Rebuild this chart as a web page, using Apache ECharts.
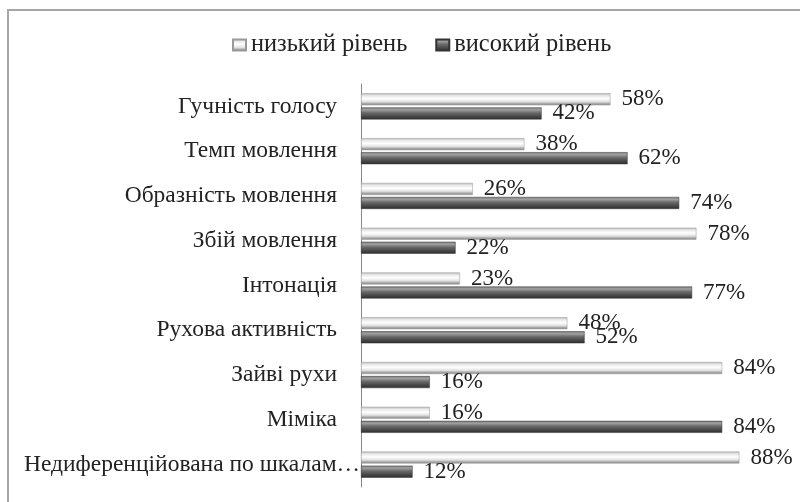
<!DOCTYPE html>
<html><head><meta charset="utf-8">
<script src="https://cdn.jsdelivr.net/npm/echarts@6/dist/echarts.min.js"></script>
<style>html,body{margin:0;padding:0;background:#fff}#c{width:800px;height:502px}</style>
</head><body><div id="c"></div>
<script>
const categories = ['Гучність голосу','Темп мовлення','Образність мовлення','Збій мовлення','Інтонація','Рухова активність','Зайві рухи','Міміка','Недиференційована по шкалам…'];
const lowValues = [58,38,26,78,23,48,84,16,88];
const highValues = [42,62,74,22,77,52,16,84,12];
const seriesNames = ['низький рівень','високий рівень'];

const chart = echarts.init(document.getElementById('c'));
const font = 'Liberation Serif';
const lowGrad = new echarts.graphic.LinearGradient(0,0,0,1,[
  {offset:0,color:'#bcbcbc'},{offset:0.2,color:'#e8e8e8'},{offset:0.45,color:'#ffffff'},{offset:0.7,color:'#e0e0e0'},{offset:0.85,color:'#a8a8a8'},{offset:1,color:'#8a8a8a'}]);
const highGrad = new echarts.graphic.LinearGradient(0,0,0,1,[
  {offset:0,color:'#7a7a7a'},{offset:0.2,color:'#a0a0a0'},{offset:0.45,color:'#6a6a6a'},{offset:0.75,color:'#474747'},{offset:1,color:'#2e2e2e'}]);
const labelCfg = {show:true, position:'right', distance:11, formatter:'{c}%', fontFamily:font, fontSize:23, color:'#222'};
const lastIdx = categories.length - 1;
chart.setOption({
  animation:false,
  textStyle:{fontFamily:font},
  graphic:[{type:'rect', shape:{x:8,y:10,width:810,height:510}, style:{fill:'none', stroke:'#a6a6a6', lineWidth:2}, z:-1}],
  legend:{top:28, left:227, icon:'rect', itemWidth:13, itemHeight:11, itemGap:28,
    textStyle:{fontFamily:font, fontSize:24.4, color:'#222'},
    data:[{name:seriesNames[0], itemStyle:{color:lowGrad}},{name:seriesNames[1], itemStyle:{color:highGrad}}]},
  grid:{left:361, right:9, top:84, bottom:15, containLabel:false},
  xAxis:{type:'value', min:0, max:100, show:false},
  yAxis:{type:'category', inverse:true, data:categories,
    axisLine:{show:true, lineStyle:{color:'#888', width:1}}, axisTick:{show:false},
    axisLabel:{fontFamily:font, fontSize:23.5, color:'#222', margin:1,
      formatter:(v, i) => i === lastIdx ? v : '{p|' + v + '}',
      rich:{p:{fontFamily:font, fontSize:23.5, color:'#222', padding:[0,23,0,0]}}}},
  series:[
    {name:seriesNames[0], type:'bar', data:lowValues, barWidth:12, barGap:'17%',
     itemStyle:{color:lowGrad, borderColor:'#999', borderWidth:0.5}, label:labelCfg},
    {name:seriesNames[1], type:'bar', data:highValues, barWidth:12,
     itemStyle:{color:highGrad, borderColor:'#333', borderWidth:0.5}, label:labelCfg}
  ]
});
</script></body></html>
